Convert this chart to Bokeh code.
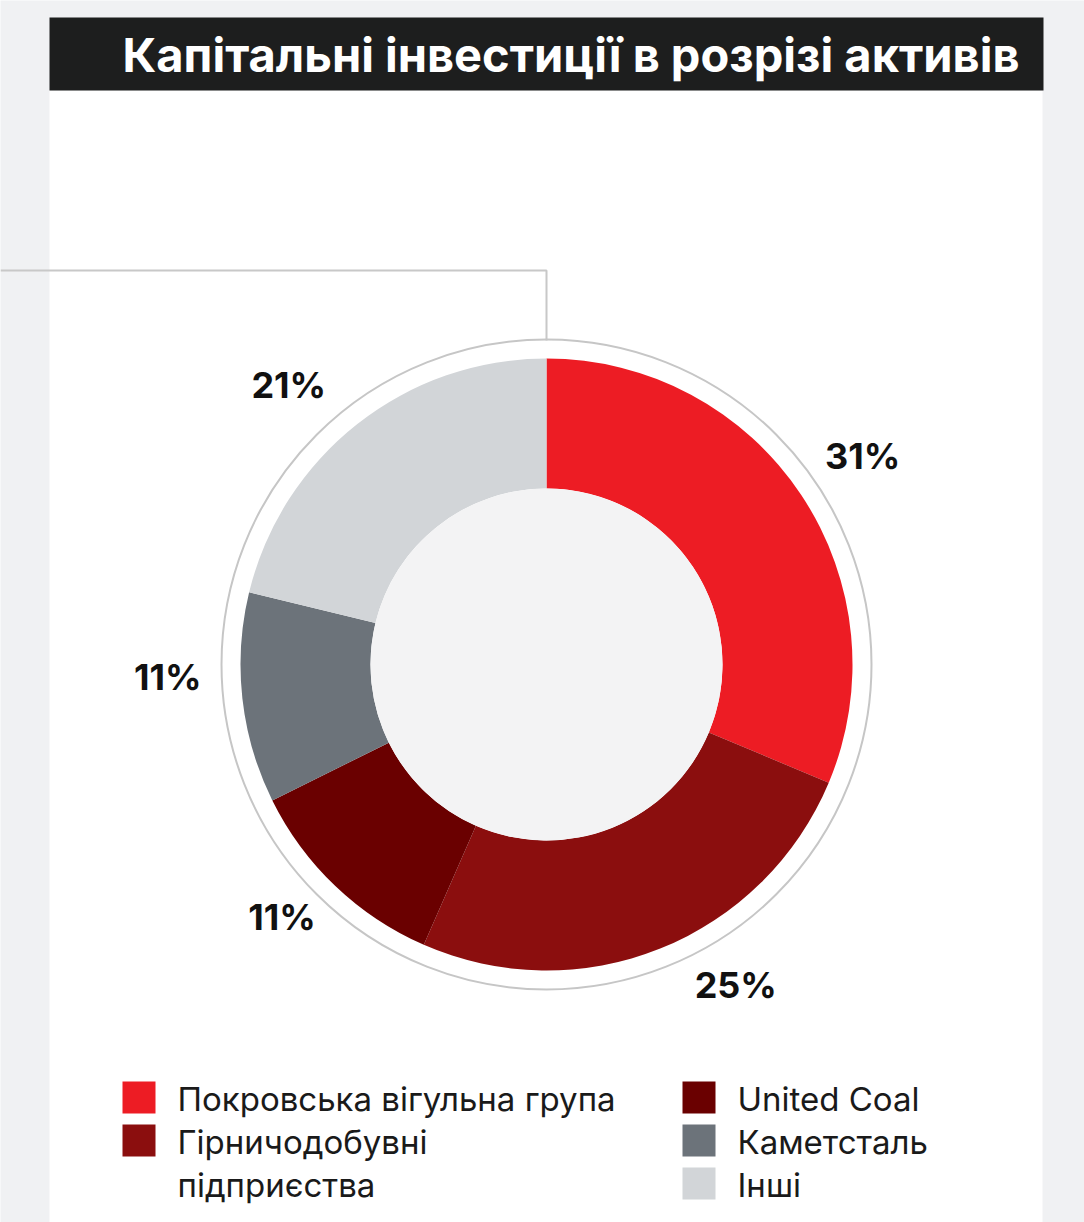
import math
from bokeh.plotting import figure
from bokeh.models import Range1d
from bokeh.core.properties import value
from bokeh.embed import file_html
from bokeh.resources import INLINE

# ---- data ----
title = "Капітальні інвестиції в розрізі активів"
categories = ["Покровська вігульна група", "Гірничодобувні\nпідприєства", "United Coal", "Каметсталь", "Інші"]
shares = [31, 25, 11, 11, 21]
labels = ["31%", "25%", "11%", "11%", "21%"]
colors = ["#ed1c24", "#8b0e0e", "#6a0000", "#6c737a", "#d2d5d8"]

# ---- layout (pixels) ----
W, H = 1084, 1222
CX, CY = 546, 664  # donut centre in page pixels
label_r = [377, 375, 368, 379, 378]
label_shift_deg = [0.6, -8.5, 2.3, 4.0, -4.8]

def px(x, y):
    return x - CX, CY - y

p = figure(width=W, height=H, output_backend="svg", toolbar_location=None,
           x_range=Range1d(-CX, W - CX), y_range=Range1d(CY - H, CY),
           min_border=0)
p.axis.visible = False
p.grid.visible = False
p.outline_line_color = None
p.background_fill_color = "#f0f1f3"
p.border_fill_color = "#f0f1f3"

FONT = "Inter"

# white panel
x0, y0 = px(49, 90); x1, y1 = px(1042, H)
p.quad(left=[x0], right=[x1], top=[y0], bottom=[y1], fill_color="white", line_color=None)
# title bar
x0, y0 = px(49, 17); x1, y1 = px(1043, 90)
p.quad(left=[x0], right=[x1], top=[y0], bottom=[y1], fill_color="#1d1e1e", line_color=None)
tx, ty = px(122, 54)
p.text(x=[tx], y=[ty], text=[title], text_color="white", text_font=value(FONT),
       text_font_style="bold", text_font_size="47px", text_baseline="middle")

# connector line
lx, ly = zip(px(0, 270), px(546, 270), px(546, 340))
p.line(x=list(lx), y=list(ly), line_color="#c8c8c8", line_width=2)

# outer ring
p.circle(x=[0], y=[0], radius=325, fill_color=None, line_color="#c6c6c6", line_width=2)

# donut
total = sum(shares)
starts, ends, mids = [], [], []
cum = 0
for s in shares:
    a0 = math.pi / 2 - 2 * math.pi * cum / total
    cum += s
    a1 = math.pi / 2 - 2 * math.pi * cum / total
    starts.append(a0); ends.append(a1); mids.append((a0 + a1) / 2)
p.annular_wedge(x=0, y=0, inner_radius=176, outer_radius=306, start_angle=starts, end_angle=ends,
                direction="clock", fill_color=colors, line_color=None)
p.circle(x=[0], y=[0], radius=176, fill_color="#f3f3f4", line_color=None)

lxs = [r * math.cos(m - math.radians(d)) for r, m, d in zip(label_r, mids, label_shift_deg)]
lys = [r * math.sin(m - math.radians(d)) + 3 for r, m, d in zip(label_r, mids, label_shift_deg)]
p.text(x=lxs, y=lys, text=labels, text_font=value(FONT), text_font_style="bold",
       text_font_size="36px", text_align="center", text_baseline="middle", text_color="#111111")

# legend
leg_pos = [(122, 1097), (122, 1140), (682, 1097), (682, 1140), (682, 1183)]
line_gap = 43
for (lxp, lyp), cat, col in zip(leg_pos, categories, colors):
    qx0, qy0 = px(lxp, lyp - 16); qx1, qy1 = px(lxp + 33, lyp + 16)
    p.quad(left=[qx0], right=[qx1], top=[qy0], bottom=[qy1], fill_color=col, line_color=None)
    for i, part in enumerate(cat.split("\n")):
        tx, ty = px(lxp + 55, lyp + i * line_gap + 1)
        p.text(x=[tx], y=[ty], text=[part], text_font=value(FONT), text_font_size="33px",
               text_baseline="middle", text_color="#1a1a1a")

open("out.html", "w").write(file_html(p, INLINE))
